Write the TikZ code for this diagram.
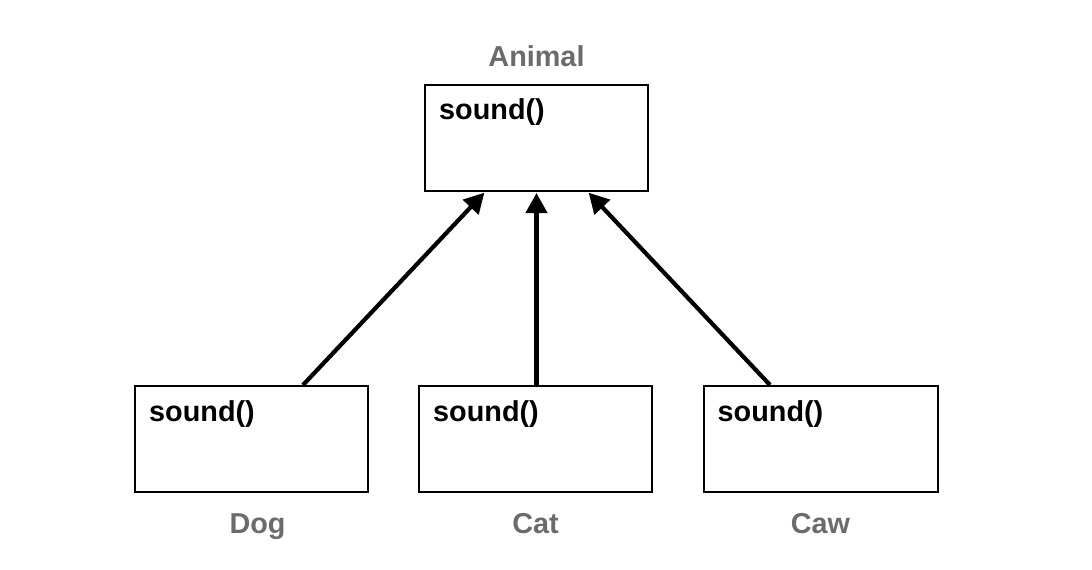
\documentclass[tikz,border=0pt]{standalone}
\usepackage{fontspec}
\setmainfont{Liberation Sans}
\usetikzlibrary{arrows.meta,calc}
\begin{document}
\begin{tikzpicture}[x=1pt,y=-1pt,
  classbox/.style={draw=black,line width=2pt,fill=white,minimum width=#1,minimum height=106pt,inner sep=0pt},
  method/.style={anchor=base west,inner sep=0pt,font=\fontsize{28.8}{32}\selectfont\bfseries,text=black},
  classname/.style={anchor=base,inner sep=0pt,font=\fontsize{28.8}{32}\selectfont\bfseries,text={rgb,255:red,107;green,107;blue,107}},
  inherit/.style={line width=4.2pt,-{Triangle[length=20pt,width=21pt]},shorten >=1pt}]
\useasboundingbox (0,0) rectangle (1092,570);
\node[classbox=223pt] (animal) at (536.5,138) {};
\node[classbox=233pt] (dog) at (251.5,439) {};
\node[classbox=233pt] (cat) at (535.5,439) {};
\node[classbox=234pt] (caw) at (820.5,439) {};
\node[method] (animalm) at ($(animal.north west)+(15,35)$) {sound()};
\node[method] (dogm) at ($(dog.north west)+(15,36)$) {sound()};
\node[method] (catm) at ($(cat.north west)+(15,36)$) {sound()};
\node[method] (cawm) at ($(caw.north west)+(15,36)$) {sound()};
\node[classname] (animall) at ($(animal.north)+(0,-18)$) {Animal};
\node[classname] (dogl) at ($(dog.south)+(6,40)$) {Dog};
\node[classname] (catl) at ($(cat.south)+(0,40)$) {Cat};
\node[classname] (cawl) at ($(caw.south)+(0,40)$) {Caw};
\draw[inherit] ($(dog.north)+(51.5,0)$) -- ($(animal.south)+(-51.5,0)$);
\draw[inherit] ($(cat.north)+(1,0)$) -- (animal.south);
\draw[inherit] ($(caw.north)+(-50.5,0)$) -- ($(animal.south)+(51.5,0)$);
\end{tikzpicture}
\end{document}
